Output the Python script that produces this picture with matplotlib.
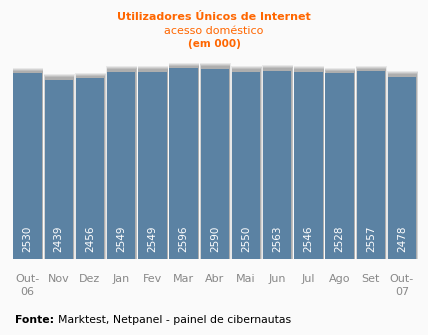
import numpy as np
import matplotlib.pyplot as plt

meses = ['Out-\n06', 'Nov', 'Dez', 'Jan', 'Fev', 'Mar', 'Abr', 'Mai', 'Jun', 'Jul', 'Ago', 'Set', 'Out-\n07']
utilizadores = [2530, 2439, 2456, 2549, 2549, 2596, 2590, 2550, 2563, 2546, 2528, 2557, 2478]

laranja = '#FF6600'
azul = '#5B82A3'
fundo = '#FAFAFA'

W, H = 428, 335
fig = plt.figure(figsize=(W / 100, H / 100), dpi=100, facecolor=fundo)

# eixo em pixeis: base das barras em y=259, topo em y=60
ax = fig.add_axes([11.9 / W, (H - 259) / H, (417.6 - 11.9) / W, (259 - 60) / H])
ax.set_facecolor('none')
ymax = 199 / 0.0735
ax.set_ylim(0, ymax)
ax.set_xlim(-0.5, len(meses) - 0.5)

x = np.arange(len(meses))
v = np.array(utilizadores)
px = ymax / 199  # unidades por pixel
larg = 0.91

# sombra cinzenta por tras das barras (camadas para suavizar)
for dx, dw, dh, a in [(0.02, 0.07, 5.5, 0.16), (0.02, 0.05, 4.5, 0.22),
                      (0.02, 0.04, 3.5, 0.28), (0.02, 0.03, 2.5, 0.32)]:
    ax.bar(x + dx, v + dh * px, width=larg + dw, color='#8c8c8c', alpha=a, linewidth=0)
ax.bar(x, v, width=larg, color=azul, linewidth=0, zorder=3)

for xi, vi in zip(x, v):
    ax.text(xi, 7 * px, str(vi), rotation=90, ha='center', va='bottom',
            color='white', fontsize=7.5, zorder=4)

ax.set_xticks(x)
ax.set_xticklabels(meses, color='#888888', fontsize=8, linespacing=1.3, va='top')
ax.tick_params(axis='x', length=0, pad=11)
ax.set_yticks([])
for s in ax.spines.values():
    s.set_visible(False)

fig.text(214 / W, 1 - 17 / H, 'Utilizadores Únicos de Internet', ha='center', va='center',
         color=laranja, fontsize=8, fontweight='bold')
fig.text(214 / W, 1 - 31 / H, 'acesso doméstico', ha='center', va='center',
         color=laranja, fontsize=8)
fig.text(214 / W, 1 - 44 / H, '(em 000)', ha='center', va='center',
         color=laranja, fontsize=7.5, fontweight='bold')

t = fig.text(15 / W, 1 - 320 / H, 'Fonte:', ha='left', va='center',
             color='black', fontsize=7.8, fontweight='bold')
fig.canvas.draw()
bb = t.get_window_extent()
fig.text((bb.x1 + 4) / W, 1 - 320 / H, 'Marktest, Netpanel - painel de cibernautas',
         ha='left', va='center', color='black', fontsize=7.8)

fig.savefig('out.png', dpi=100, facecolor=fundo)
